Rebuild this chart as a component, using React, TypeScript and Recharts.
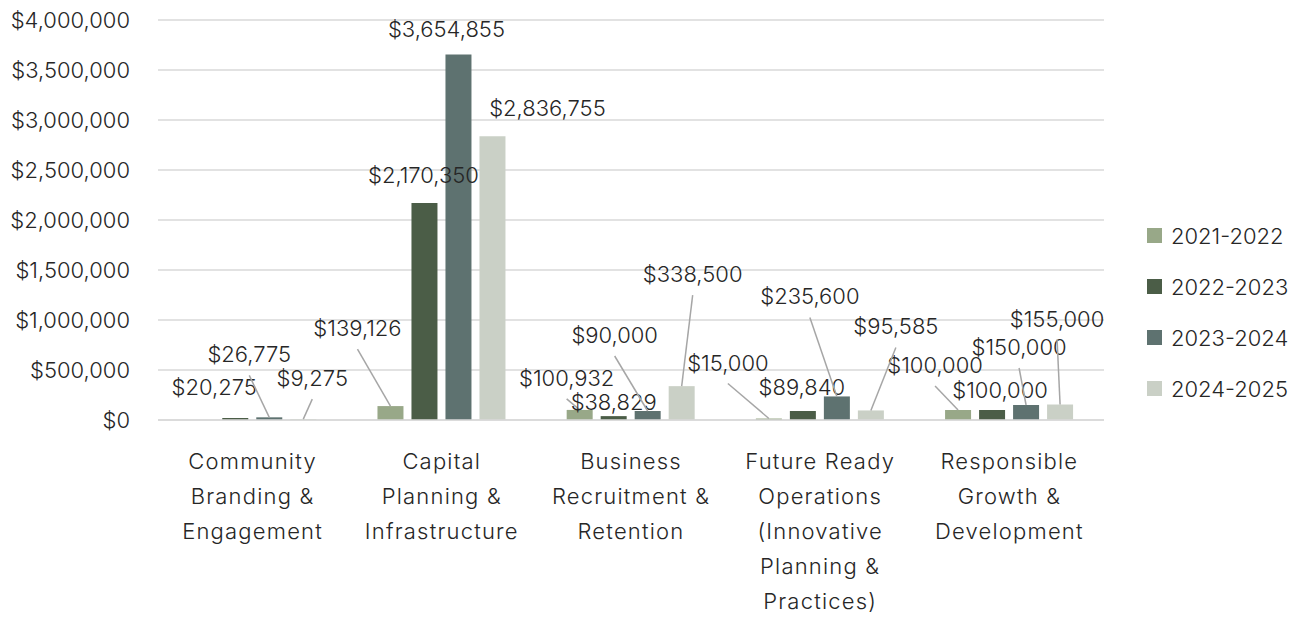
import React from "react";
import { BarChart, Bar, XAxis, YAxis, CartesianGrid, Legend } from "recharts";

const categories = [
  "Community Branding & Engagement",
  "Capital Planning & Infrastructure",
  "Business Recruitment & Retention",
  "Future Ready Operations (Innovative Planning & Practices)",
  "Responsible Growth & Development",
];
const categoryLines = [
  ["Community", "Branding &", "Engagement"],
  ["Capital", "Planning &", "Infrastructure"],
  ["Business", "Recruitment &", "Retention"],
  ["Future Ready", "Operations", "(Innovative", "Planning &", "Practices)"],
  ["Responsible", "Growth &", "Development"],
];
const seriesNames = ["2021-2022", "2022-2023", "2023-2024", "2024-2025"];
const fy2122 = [null, 139126, 100932, 15000, 100000];
const fy2223 = [20275, 2170350, 38829, 89840, 100000];
const fy2324 = [26775, 3654855, 90000, 235600, 150000];
const fy2425 = [9275, 2836755, 338500, 95585, 155000];
const yTicks = [0, 500000, 1000000, 1500000, 2000000, 2500000, 3000000, 3500000, 4000000];

// label displacement from bar top (dx, dy of text centre) and whether a leader line is drawn
const labels2122: [number, number, boolean][] = [[0, 0, false], [-33, -78, true], [-13, -32, true], [-41, -56, true], [-23, -45, true]];
const labels2223: [number, number, boolean][] = [[-21, -31, false], [-1, -28, false], [0, -14, false], [-1, -24, false], [8, -20, false]];
const labels2324: [number, number, boolean][] = [[-20, -63, true], [-12, -26, false], [-33, -76, true], [-27, -100, true], [-7, -58, true]];
const labels2425: [number, number, boolean][] = [[9, -41, true], [55, -28, false], [11, -112, true], [25, -84, true], [-3, -86, true]];

const colors = ["#98a888", "#4b5d47", "#5e7270", "#cad0c6"];
const FONT = "Inter, 'Open Sans', sans-serif";
const TEXT = "#262626";
const WEIGHT = 300;

const data = categories.map((c, i) => ({
  name: c,
  s0: fy2122[i],
  s1: fy2223[i],
  s2: fy2324[i],
  s3: fy2425[i],
}));

const fmt = (v: number) => "$" + v.toLocaleString("en-US");

const makeLabel = (series: (number | null)[], offsets: [number, number, boolean][]) => (props: any) => {
  const { value } = props;
  if (value === null || value === undefined) return null;
  const vb = props.viewBox || {};
  const x = props.x ?? vb.x;
  const y = props.y ?? vb.y;
  const w = props.width ?? vb.width;
  const h = props.height ?? vb.height;
  const idx = series.indexOf(value);
  const top = h < 0 ? y + h : y;
  const cx = x + w / 2;
  const [dx, dy, leader] = offsets[idx] || [0, -20, false];
  const lx = cx + dx;
  const ly = top + dy;
  return (
    <g key={"lbl" + idx}>
      {leader && (
        <line x1={lx} y1={ly + 21} x2={cx} y2={top} stroke="#a6a6a6" strokeWidth={1.5} />
      )}
      <text x={lx} y={ly} textAnchor="middle" dominantBaseline="central" fontSize={22} fontWeight={WEIGHT} fontFamily={FONT} fill={TEXT}>
        {fmt(value)}
      </text>
    </g>
  );
};

const CategoryTick = (props: any) => {
  const { x, y, payload } = props;
  const lines = categoryLines[payload.index] || [payload.value];
  return (
    <g>
      {lines.map((ln, i) => (
        <text key={i} x={x} y={y + 38.5 + i * 35.2} textAnchor="middle" dominantBaseline="central" fontSize={22} fontWeight={WEIGHT} letterSpacing={1.2} fontFamily={FONT} fill={TEXT}>
          {ln}
        </text>
      ))}
    </g>
  );
};

const LegendContent = () => (
  <div style={{ fontFamily: FONT, fontSize: 22, fontWeight: WEIGHT, color: TEXT }}>
    {seriesNames.map((n, i) => (
      <div key={n} style={{ height: 51, display: "flex", alignItems: "center" }}>
        <span style={{ display: "inline-block", width: 15, height: 15, background: colors[i], marginRight: 9 }} />
        <span>{n}</span>
      </div>
    ))}
  </div>
);

export default function App() {
  return (
    <div style={{ position: "absolute", left: 0, top: 0, width: 1312, height: 618, background: "#fff" }}>
      <BarChart
        width={1312}
        height={618}
        data={data}
        margin={{ top: 20, right: 208, bottom: 8, left: 0 }}
        barCategoryGap="16%"
        barGap={8}
      >
        <CartesianGrid vertical={false} stroke="#d9d9d9" strokeWidth={1.5} />
        <XAxis
          dataKey="name"
          axisLine={{ stroke: "#d9d9d9", strokeWidth: 1.5 }}
          tickLine={false}
          tickSize={0}
          height={190}
          interval={0}
          tick={<CategoryTick />}
        />
        <YAxis
          width={158}
          domain={[0, 4000000]}
          ticks={yTicks}
          axisLine={false}
          tickLine={false}
          tickSize={0}
          tickMargin={28}
          tickFormatter={fmt}
          tick={{ fontSize: 22, fontWeight: WEIGHT, fontFamily: FONT, fill: TEXT }}
        />
        <Legend
          layout="vertical"
          align="center"
          verticalAlign="middle"
          content={<LegendContent />}
          wrapperStyle={{ left: 1147, top: 210, width: 165 }}
        />
        <Bar dataKey="s0" name={seriesNames[0]} fill={colors[0]} isAnimationActive={false} label={makeLabel(fy2122, labels2122)} />
        <Bar dataKey="s1" name={seriesNames[1]} fill={colors[1]} isAnimationActive={false} label={makeLabel(fy2223, labels2223)} />
        <Bar dataKey="s2" name={seriesNames[2]} fill={colors[2]} isAnimationActive={false} label={makeLabel(fy2324, labels2324)} />
        <Bar dataKey="s3" name={seriesNames[3]} fill={colors[3]} isAnimationActive={false} label={makeLabel(fy2425, labels2425)} />
      </BarChart>
    </div>
  );
}
